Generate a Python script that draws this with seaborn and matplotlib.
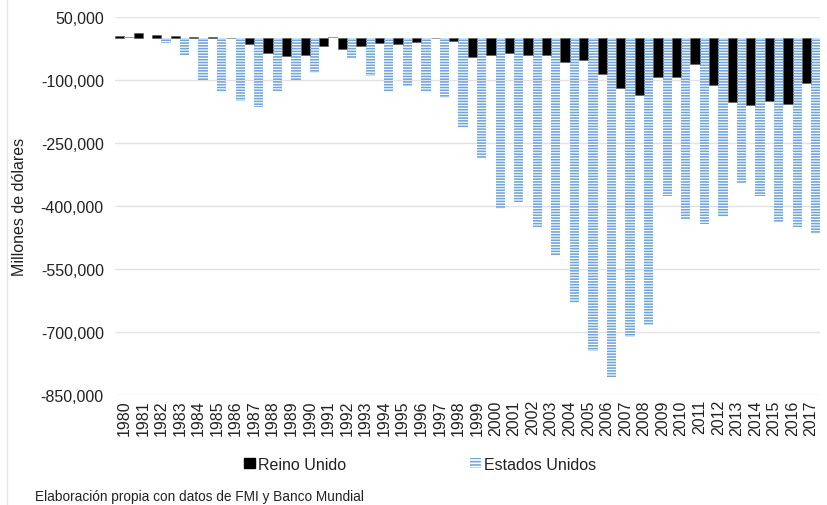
import numpy as np
import pandas as pd
import matplotlib
matplotlib.use("Agg")
import matplotlib.pyplot as plt
from matplotlib.patches import Patch
from matplotlib.lines import Line2D
from matplotlib.ticker import FuncFormatter
import seaborn as sns

years = [str(y) for y in range(1980, 2018)]
reino_unido = [5000, 13000, 7000, 5000, 2000, 3000, -1000, -14000, -36500, -44000,
               -40000, -20000, -25000, -18000, -11000, -14000, -10000, -1000, -7000, -45000,
               -40000, -36000, -41000, -41000, -58000, -53000, -86000, -118000, -135000, -93000,
               -93000, -61000, -113000, -152000, -160000, -150000, -156000, -106000]
estados_unidos = [2000, 1000, -12000, -44000, -101000, -126000, -151000, -164000, -126000, -101000,
                  -83000, 2000, -51000, -90000, -126000, -114000, -126000, -144000, -212000, -288000,
                  -407000, -390000, -451000, -520000, -630000, -745000, -808000, -713000, -683000, -376000,
                  -432000, -444000, -427000, -348000, -376000, -439000, -451000, -467000]
series_names = ["Reino Unido", "Estados Unidos"]
y_ticks = [50000, -100000, -250000, -400000, -550000, -700000, -850000]
y_label = "Millones de dólares"
source = "Elaboración propia con datos de FMI y Banco Mundial"

df = pd.DataFrame({
    "Año": years * 2,
    "Serie": [series_names[0]] * len(years) + [series_names[1]] * len(years),
    "Valor": reino_unido + estados_unidos,
})

sns.set_theme(style="white")
plt.rcParams["font.family"] = ["Liberation Sans", "DejaVu Sans"]
plt.rcParams["hatch.linewidth"] = 1.15

blue = "#6fa6d9"
fig = plt.figure(figsize=(8.27, 5.06), dpi=100)
ax = fig.add_axes([0.139, 0.2174, 0.853, 0.747])

sns.barplot(data=df, x="Año", y="Valor", hue="Serie", hue_order=series_names,
            palette={series_names[0]: "black", series_names[1]: "white"},
            width=1.0, gap=0, saturation=1, errorbar=None, legend=False, ax=ax, zorder=3)

for p in ax.containers[0]:
    p.set_edgecolor("#555555")
    p.set_linewidth(0.4)
for p in ax.containers[1]:
    p.set_facecolor("none")
    p.set_hatch("------")
    p.set_edgecolor(blue)
    p.set_linewidth(0)

ax.set_ylim(-850000, 50000)
ax.set_yticks(y_ticks)
ax.yaxis.set_major_formatter(FuncFormatter(lambda v, pos: f"{int(v):,}"))
ax.set_xlim(-0.5, len(years) - 0.5)
ax.grid(axis="y", color="#e3e3e3", linewidth=1.0, zorder=0)
ax.grid(axis="x", visible=False)
for s in ax.spines.values():
    s.set_visible(False)
ax.tick_params(axis="x", labelrotation=90, labelsize=11.5, length=0, pad=3, colors="#222222")
ax.tick_params(axis="y", labelsize=11.5, length=0, pad=8, colors="#222222")
ax.set_xlabel("")
ax.set_ylabel(y_label, fontsize=11.5, color="#222222", labelpad=10)
ax.yaxis.set_label_coords(-0.124, 0.5)

handles = [Patch(facecolor="black", edgecolor="black", label=series_names[0]),
           Patch(facecolor="white", edgecolor=blue, hatch="-----", linewidth=0, label=series_names[1])]
fig.legend(handles=handles, loc="center", bbox_to_anchor=(0.508, 0.081), ncol=2,
           frameon=False, fontsize=11.5, handlelength=0.65, handleheight=0.65,
           handletextpad=0.2, columnspacing=7.8, labelcolor="#222222")

fig.text(0.042, 0.003, source, fontsize=9.8, color="#222222", ha="left", va="bottom")
fig.add_artist(Line2D([0.0085, 0.0085], [0, 1], color="#e8e8e8", linewidth=1.0))

fig.savefig("out.png", dpi=100)
